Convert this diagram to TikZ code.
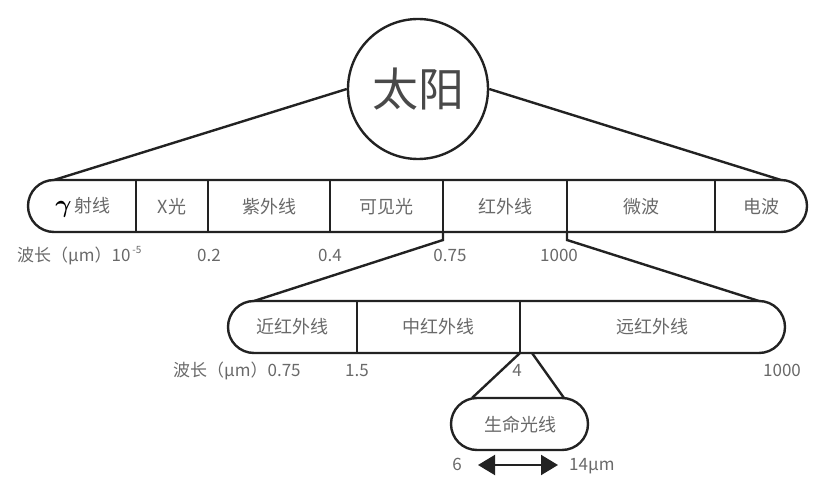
\documentclass[tikz,border=0pt]{standalone}
\usepackage{fontspec}
\usepackage{bm}
\newfontfamily\cjk{Noto Sans CJK SC}
\usetikzlibrary{arrows.meta}
\definecolor{linec}{RGB}{34,34,34}
\definecolor{textc}{RGB}{105,105,105}

\begin{document}
\begin{tikzpicture}[x=1pt, y=-1pt, line width=2.4pt, draw=linec,
    cell/.style={font=\cjk\fontsize{18}{20}\selectfont, text=textc, inner sep=0pt},
    wl/.style={font=\cjk\fontsize{17}{20}\selectfont, text=textc, inner sep=0pt, anchor=base},
    band/.style={draw, rounded corners=26pt}]

    % 画布大小
    \useasboundingbox (0,0) rectangle (828,497);

    % 太阳
    \node[circle, draw, minimum size=140pt, inner sep=0pt,
          font=\cjk\fontsize{46}{50}\selectfont, text=textc!70!black] (sun) at (418,89) {太阳};

    % 第一条：电磁波谱
    \draw[band] (28,180) rectangle (807,232);
    \coordinate (b1nw) at (54,180);
    \coordinate (b1ne) at (781,180);
    \draw (sun.west) -- (b1nw);
    \draw (sun.east) -- (b1ne);
    \foreach \x [count=\i] in {136,208,330,443,567,715}
        \draw (\x,180) -- (\x,232) coordinate (d\i);

    \node[cell] (gamma) at (83,207) {{\color{black}\fontsize{23}{23}\selectfont$\bm{\gamma}$}\,射线};
    \node[cell] (xray)  at (172,207) {X光};
    \node[cell] (uv)    at (269,207) {紫外线};
    \node[cell] (vis)   at (386,207) {可见光};
    \node[cell] (ir)    at (505,207) {红外线};
    \node[cell] (mw)    at (641,207) {微波};
    \node[cell] (radio) at (761,207) {电波};

    % 波长（第一行）
    \node[wl, anchor=base west] (wla) at (16,262)
        {波长（μm）10\kern2pt\raisebox{8pt}{\fontsize{10}{10}\selectfont -5}};
    \node[wl] (wlb) at (209,262) {0.2};
    \node[wl] (wlc) at (330,262) {0.4};
    \node[wl] (wld) at (450,262) {0.75};
    \node[wl] (wle) at (559,262) {1000};

    % 第二条：红外线
    \coordinate (k4) at (443,240);
    \coordinate (k5) at (567,240);
    \coordinate (b2nw) at (254,301);
    \coordinate (b2ne) at (759,301);
    \draw (d4) -- (k4) -- (b2nw);
    \draw (d5) -- (k5) -- (b2ne);
    \draw[band] (228,301) rectangle (785,353);
    \foreach \x [count=\i] in {357,520}
        \draw (\x,301) -- (\x,353) coordinate (e\i);

    \node[cell] (nir) at (292,327) {近红外线};
    \node[cell] (mir) at (438,327) {中红外线};
    \node[cell] (fir) at (652,327) {远红外线};

    % 波长（第二行）
    \node[wl, anchor=base west] (wlf) at (172,377) {波长（μm）0.75};
    \node[wl] (wlg) at (357,377) {1.5};
    \node[wl] (wlh) at (517,377) {4};
    \node[wl] (wli) at (782,377) {1000};

    % 第三条：生命光线
    \coordinate (e2r) at (532,353);
    \coordinate (b3nw) at (472,398);
    \coordinate (b3ne) at (564,398);
    \draw (e2) -- (b3nw);
    \draw (e2r) -- (b3ne);
    \draw[band] (451,398) rectangle (588,450);
    \node[cell] (life) at (520,425) {生命光线};

    % 6 -- 14μm
    \node[wl] (wlj) at (457,470) {6};
    \node[wl, anchor=base west] (wlk) at (568,470) {14μm};
    \coordinate (a1) at (478,465);
    \coordinate (a2) at (558,465);
    \draw[{Triangle[length=17pt,width=20pt]}-{Triangle[length=17pt,width=20pt]}, line width=2pt] (a1) -- (a2);

\end{tikzpicture}
\end{document}
